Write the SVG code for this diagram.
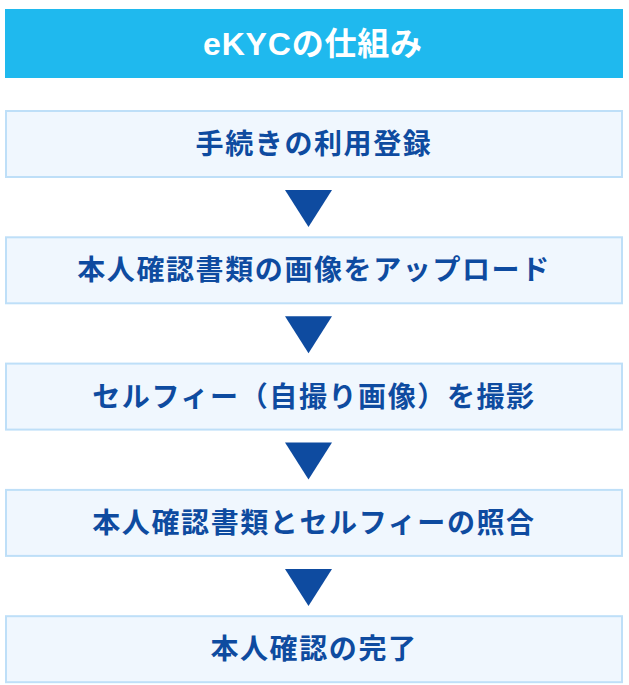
<svg xmlns="http://www.w3.org/2000/svg" width="629" height="685" viewBox="0 0 629 685">
<style>
.box{fill:#F0F7FE;stroke:#BEDFF8;stroke-width:2}
.lbl{font-family:"Noto Sans CJK JP","Noto Sans CJK SC",sans-serif;font-weight:bold;font-size:28px;fill:#0E4BA0;text-anchor:middle;letter-spacing:1.6px}
.ttl{font-family:"Liberation Sans","Noto Sans CJK JP",sans-serif;font-weight:bold;font-size:32px;fill:#FFFFFF;text-anchor:middle;letter-spacing:0.8px}
.arr{fill:#0E4BA0}
</style>
<rect width="629" height="685" fill="#FFFFFF"/>
<g id="header">
<rect x="5" y="9" width="618" height="69" fill="#1FB9EE"/>
<text class="ttl" x="313" y="54.5">eKYCの仕組み</text>
</g>
<g id="step1">
<rect class="box" x="6" y="111" width="616" height="66"/>
<text class="lbl" x="314" y="154">手続きの利用登録</text>
</g>
<g id="step2">
<rect class="box" x="6" y="237.3" width="616" height="66"/>
<text class="lbl" x="314" y="280.3">本人確認書類の画像をアップロード</text>
</g>
<g id="step3">
<rect class="box" x="6" y="363.6" width="616" height="66"/>
<text class="lbl" x="314" y="406.6">セルフィー（自撮り画像）を撮影</text>
</g>
<g id="step4">
<rect class="box" x="6" y="489.9" width="616" height="66"/>
<text class="lbl" x="314" y="532.9">本人確認書類とセルフィーの照合</text>
</g>
<g id="step5">
<rect class="box" x="6" y="616.2" width="616" height="66"/>
<text class="lbl" x="314" y="659.2">本人確認の完了</text>
</g>
<g id="connectors">
<polygon class="arr" points="285,190 332,190 308.5,227"/>
<polygon class="arr" points="285,316.3 332,316.3 308.5,353.3"/>
<polygon class="arr" points="285,442.6 332,442.6 308.5,479.6"/>
<polygon class="arr" points="285,568.9 332,568.9 308.5,605.9"/>
</g>
</svg>
